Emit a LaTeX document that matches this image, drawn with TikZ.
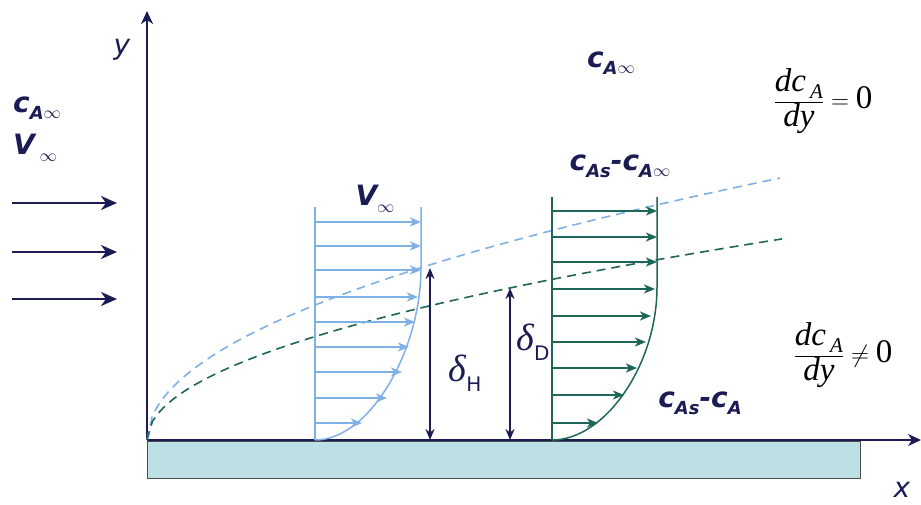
\documentclass[tikz,border=0pt]{standalone}
\usepackage{fontspec}
\usetikzlibrary{arrows.meta}
\newfontfamily\lblfont{DejaVu Sans}
\setmainfont{Liberation Serif}
\definecolor{navy}{HTML}{1C1C55}
\definecolor{lblue}{HTML}{7FB0E6}
\definecolor{dteal}{HTML}{1E6658}
\definecolor{plate}{HTML}{BCE0E3}
\tikzset{
  axis/.style={navy,line width=2.6pt,-{Stealth[length=13pt,width=12pt,inset=4pt]}},
  flow/.style={navy,line width=2.2pt,-{Stealth[length=16pt,width=14pt,inset=5pt]}},
  vline/.style={lblue,line width=1.5pt},
  varr/.style={lblue,line width=2pt,-{Stealth[length=11pt,width=9pt,inset=3pt]}},
  cline/.style={dteal,line width=1.5pt},
  carr/.style={dteal,line width=2pt,-{Stealth[length=11pt,width=9pt,inset=3pt]}},
  thick2/.style={navy,line width=2pt,{Stealth[length=11pt,width=9pt]}-{Stealth[length=11pt,width=9pt]}},
  lbl/.style={navy,font=\lblfont\bfseries\itshape\fontsize{28}{30}\selectfont,inner sep=0pt},
  axlbl/.style={navy,font=\lblfont\itshape\fontsize{28}{30}\selectfont,inner sep=0pt},
  frac/.style={black,font=\fontsize{33}{37}\selectfont,inner sep=0pt},
  dlbl/.style={navy,inner sep=0pt,font=\itshape\fontsize{38}{38}\selectfont},
}
\newcommand{\sbs}[1]{\raisebox{-7pt}{\fontsize{18}{19}\selectfont #1}}
\newcommand{\itx}[1]{\mbox{\itshape #1}}
\newcommand{\fsub}{\raisebox{-7pt}{\fontsize{21}{21}\selectfont\itshape A}}
\newcommand{\dsub}[1]{\raisebox{-10pt}{\lblfont\upshape\fontsize{20}{20}\selectfont #1}}
\begin{document}
\begin{tikzpicture}[x=1pt,y=-1pt]
\useasboundingbox (0,0) rectangle (921,504);
% plate
\node[draw=black!70,fill=plate,line width=0.8pt,minimum width=713pt,minimum height=37pt,anchor=north west,inner sep=0pt] (plate) at (147,441) {};
% axes
\coordinate (O) at (147,440);
\coordinate (ytip) at (147,11);
\coordinate (xtip) at (921,440);
\draw[axis] (O) -- (ytip);
\draw[axis] (O) -- (xtip);
\node[axlbl] (ylab) at (122,50) {y};
\node[axlbl] (xlab) at (902,490) {x};
% free stream labels
\node[lbl,anchor=west] (cinf) at (13,108) {c\sbs{A\raisebox{1pt}{$\infty$}}};
\node[lbl,anchor=west] (vinf) at (13,148) {V\,\sbs{$\infty$}};
% flow arrows
\foreach \yy/\n in {203/a,252/b,299/c}{
  \coordinate (f\n s) at (12,\yy);
  \coordinate (f\n e) at (117,\yy);
  \draw[flow] (f\n s) -- (f\n e);
}
% boundary layer dashed curves
\draw[lblue,line width=1.6pt,dash pattern=on 9pt off 6pt] plot[domain=0:633,samples=120] ({147+\x},{440-10.41*sqrt(\x)});
\draw[dteal,line width=1.6pt,dash pattern=on 9pt off 6pt] plot[domain=0:635,samples=120] ({147+\x},{440-7.98*sqrt(\x)});
% velocity profile
\coordinate (vb) at (315,440);
\coordinate (vt) at (315,207);
\coordinate (vrt) at (421,207);
\coordinate (vrm) at (421,268);
\draw[vline] (vt) -- (vb);
\draw[vline] (vrt) -- (vrm) .. controls (421,350) and (370,440) .. (vb);
\foreach \yy/\xx in {222/421,246/421,270/421,297/418,322/415,347/409,372/402,398/387,423/362}{
  \draw[varr] (315,\yy) -- (\xx,\yy);
}
\node[lbl] (vlab) at (375,199) {V\sbs{$\infty$}};
% concentration profile
\coordinate (cb) at (552,440);
\coordinate (ct) at (552,197);
\coordinate (crt) at (657,197);
\coordinate (crm) at (657,287);
\draw[cline] (ct) -- (cb);
\draw[cline] (crt) -- (crm) .. controls (657,365) and (605,440) .. (cb);
\foreach \yy/\xx in {211/657,237/657,262/657,289/655,316/651,342/646,368/637,395/624,423/598}{
  \draw[carr] (552,\yy) -- (\xx,\yy);
}
\node[lbl] (clab) at (620,166) {c\sbs{As}-c\sbs{A\raisebox{1pt}{$\infty$}}};
% thickness arrows
\coordinate (dh1) at (430,268);
\coordinate (dh2) at (430,440);
\coordinate (dd1) at (510,288);
\coordinate (dd2) at (510,440);
\draw[thick2] (dh1) -- (dh2);
\draw[thick2] (dd1) -- (dd2);
\node[dlbl] (dH) at (465,373) {δ\dsub{H}};
\node[dlbl] (dD) at (533,342) {δ\dsub{D}};
% other labels
\node[lbl] (ctop) at (611,63) {c\sbs{A\raisebox{1pt}{$\infty$}}};
\node[lbl] (cAs) at (700,403) {c\sbs{As}-c\sbs{A}};
\node[frac] (f1) at (823,101) {$\displaystyle\frac{\itx{dc}\,\fsub}{\itx{dy}}=\mbox{0}$};
\node[frac] (f2) at (843,355) {$\displaystyle\frac{\itx{dc}\,\fsub}{\itx{dy}}\neq\mbox{0}$};
\end{tikzpicture}
\end{document}
